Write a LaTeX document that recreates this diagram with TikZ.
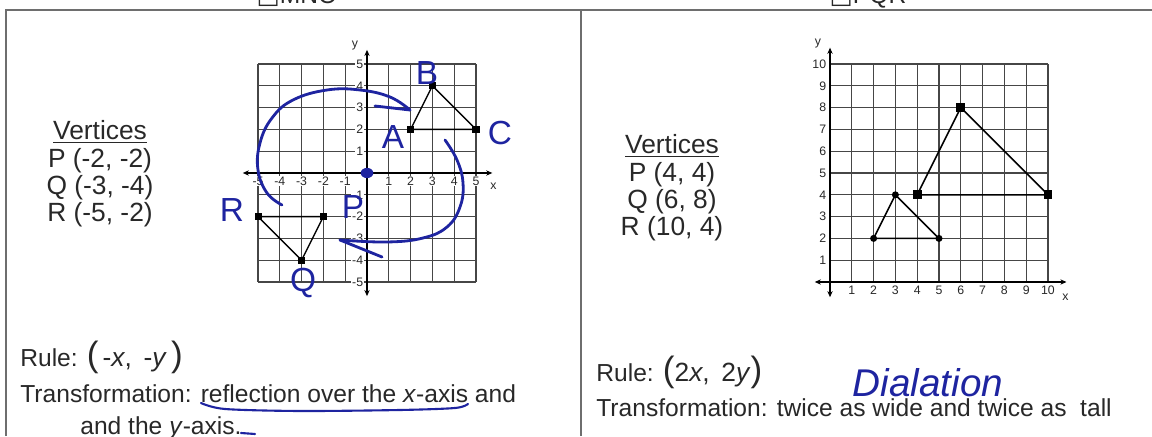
\documentclass[tikz,border=0pt]{standalone}
\usepackage{fontspec}
\setmainfont{Liberation Sans}
\newfontfamily\boxfont{DejaVu Sans}
\usetikzlibrary{arrows.meta}
\definecolor{InkBlue}{RGB}{30, 36, 160}
\definecolor{GridGray}{RGB}{70, 70, 70}
\definecolor{SheetGray}{RGB}{40, 40, 40}
\definecolor{FrameGray}{RGB}{110, 110, 110}
\tikzset{
  gridline/.style={GridGray, line width=0.7pt, step=0.436cm},
  axisline/.style={black, line width=0.8pt, {Stealth[length=3.5pt, width=3pt]}-{Stealth[length=3.5pt, width=3pt]}},
  ticklabel/.style={SheetGray, font=\fontsize{7}{8}\selectfont, fill=white, inner sep=0.5pt},
  sqdot/.style={fill=black, inner sep=0pt, minimum size=4pt},
  bigsq/.style={fill=black, inner sep=0pt, minimum size=5pt},
  rounddot/.style={circle, fill=black, inner sep=0pt, minimum size=4pt},
  sheettext/.style={SheetGray, font=\fontsize{14}{14}\selectfont, inner sep=0pt},
  vertlist/.style={SheetGray, font=\fontsize{15}{15.6}\selectfont, align=center, inner sep=0pt},
  ink/.style={InkBlue, line width=1.6pt, line cap=round, line join=round},
  inklabel/.style={InkBlue, font=\fontsize{19}{19}\selectfont, inner sep=0pt},
}
\newcommand{\bigparen}[1]{{\fontsize{20}{20}\selectfont #1}}

\begin{document}
\begin{tikzpicture}[x=0.02cm, y=0.02cm]
        \useasboundingbox (0,0) rectangle (1152,436);
        \draw[FrameGray, line width=1.1pt] (6,0) -- (6,426) -- (1152,426);
        \draw[FrameGray, line width=0.7pt] (581,0) -- (581,426);
        \node[sheettext, anchor=base] (headL) at (297,432) {{\boxfont □}MNO};
        \node[sheettext, anchor=base] (headR) at (868,432) {{\boxfont □}PQR};

        \node[vertlist] (vertL) at (100,262)
             {\underline{Vertices}\\P (-2, -2)\\Q (-3, -4)\\R (-5, -2)};
        \node[vertlist] (vertR) at (672,248)
             {\underline{Vertices}\\P (4, 4)\\Q (6, 8)\\R (10, 4)};

        \begin{scope}[shift={(367,263)}, x=0.436cm, y=0.436cm]
          \draw[gridline] (-5,-5) grid (5,5);
          \draw[axisline] (-5.7,0) -- (5.75,0);
          \draw[axisline] (0,-5.65) -- (0,5.65);
          \foreach \k in {-5,...,-1,1,2,...,5} {
            \node[ticklabel, below=1.5pt] at (\k,0) {\k};
            \node[ticklabel, left=1.5pt] at (0,\k) {\k};
          }
          \node[ticklabel, fill=none] at (5.8,-0.62) {x};
          \node[ticklabel, fill=none] at (-0.55,5.85) {y};
          \coordinate (P) at (-2,-2);
          \coordinate (Q) at (-3,-4);
          \coordinate (R) at (-5,-2);
          \coordinate (A) at (2,2);
          \coordinate (B) at (3,4);
          \coordinate (C) at (5,2);
          \draw[black, line width=0.8pt] (R) -- (Q) -- (P) -- cycle;
          \draw[black, line width=0.8pt] (A) -- (B) -- (C) -- cycle;
          \foreach \v in {P, Q, R, A, B, C} \node[sqdot] at (\v) {};
        \end{scope}

        \begin{scope}[shift={(830,154)}, x=0.436cm, y=0.436cm]
          \draw[gridline] (0,0) grid (10,10);
          \draw[axisline] (-0.7,0) -- (10.85,0);
          \draw[axisline] (0,-0.7) -- (0,10.75);
          \foreach \k in {1,...,10} {
            \node[ticklabel, below=1.5pt] at (\k,0) {\k};
            \node[ticklabel, left=1.5pt] at (0,\k) {\k};
          }
          \node[ticklabel, fill=none] at (10.8,-0.7) {x};
          \node[ticklabel, fill=none] at (-0.55,10.95) {y};
          \coordinate (smA) at (2,2);
          \coordinate (smB) at (3,4);
          \coordinate (smC) at (5,2);
          \coordinate (bigP) at (4,4);
          \coordinate (bigQ) at (6,8);
          \coordinate (bigR) at (10,4);
          \draw[black, line width=0.9pt] (smA) -- (smB) -- (smC) -- cycle;
          \draw[black, line width=0.9pt] (bigP) -- (bigQ) -- (bigR) -- cycle;
          \foreach \v in {smA, smB, smC} \node[rounddot] at (\v) {};
          \foreach \v in {bigP, bigQ, bigR} \node[bigsq] at (\v) {};
        \end{scope}

        \fill[InkBlue] (367,263) ellipse [x radius=3.6pt, y radius=2.9pt];
        \node[inklabel] (hA) at (393,299) {A};
        \node[inklabel] (hB) at (427,363) {B};
        \node[inklabel] (hC) at (500,303) {C};
        \node[inklabel] (hP) at (353,229) {P};
        \node[inklabel] (hQ) at (303,153) {Q};
        \node[inklabel] (hR) at (232,226) {R};
        \coordinate (tipOne) at (410,326);
        \coordinate (barbOne) at (375,330);
        \coordinate (tipTwo) at (340,196);
        \coordinate (barbTwo) at (382,179);
        \draw[ink] plot[smooth, tension=0.7] coordinates {(282,231) (267,243) (258,266)
             (260,293) (272,318) (293,336) (327,346) (360,346) (390,339) (tipOne)};
        \draw[ink] (barbOne) -- (tipOne);
        \draw[ink] plot[smooth, tension=0.7] coordinates {(445,296) (457,276) (463,253)
             (460,229) (447,209) (423,198) (387,194) (tipTwo)};
        \draw[ink] (barbTwo) -- (tipTwo);

        \node[sheettext, anchor=base west] (ruleL) at (20,70)
             {Rule: \bigparen{(}\,{\fontsize{15}{15}\selectfont -\textit{x}, \,-\textit{y}}\,\bigparen{)}};
        \node[sheettext, anchor=base west] (transL) at (20,33)
             {Transformation: reflection over the \textit{x}-axis and};
        \node[sheettext, anchor=base west] (transLb) at (80,2)
             {and the \textit{y}-axis.};
        \draw[ink, line width=1.2pt] plot[smooth] coordinates {(201,33) (225,27) (300,25)
             (400,26) (455,28) (468,32)};
        \draw[ink, line width=1.2pt] (241,3) -- (255,2);

        \node[sheettext, anchor=base west] (ruleR) at (596,54)
             {Rule: \bigparen{(}{\fontsize{15}{15}\selectfont 2\textit{x}, \,2\textit{y}}\bigparen{)}};
        \node[sheettext, anchor=base west] (transR) at (596,20)
             {Transformation: twice as wide and twice as\ \ tall};
        \node[InkBlue, font=\fontsize{22}{22}\selectfont\itshape, anchor=base] (dial) at (928,40)
             {Dialation};
      \end{tikzpicture}
\end{document}
